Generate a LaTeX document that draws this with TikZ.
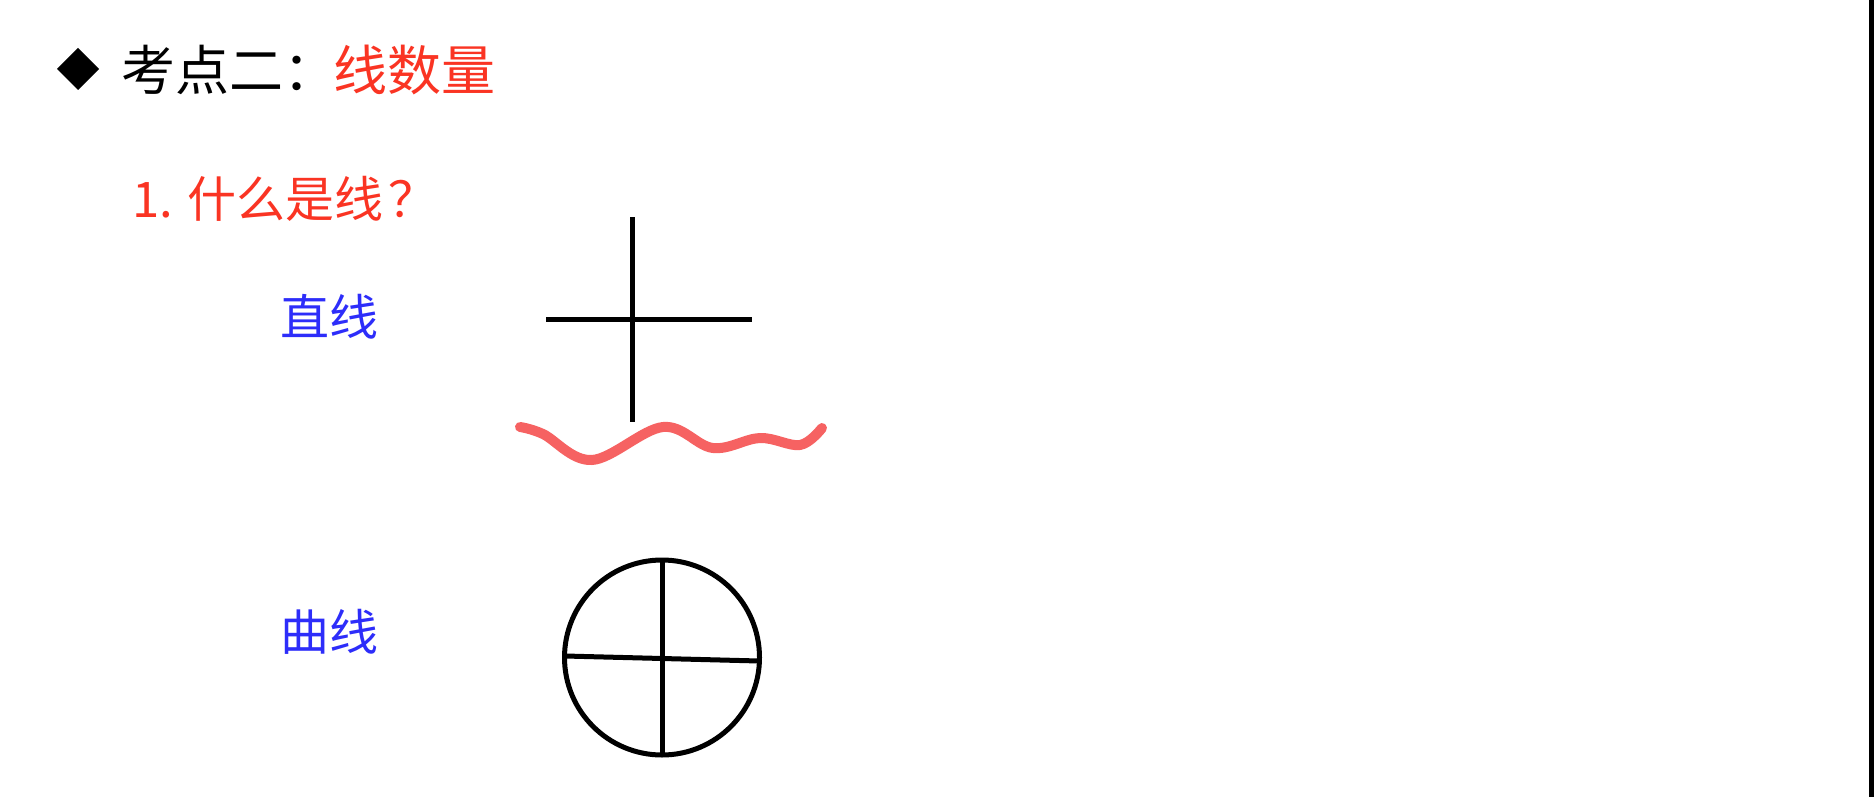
\documentclass[tikz,border=0pt]{standalone}
\usepackage{fontspec}
\setmainfont{Noto Sans CJK SC}
\definecolor{titlered}{RGB}{250,52,35}
\definecolor{labelblue}{RGB}{45,45,250}
\definecolor{wavered}{RGB}{246,98,98}
\tikzset{
  title/.style={anchor=base west,inner sep=0pt,font=\fontsize{54}{64}\selectfont},
  sub/.style={anchor=base west,inner sep=0pt,font=\fontsize{49}{58}\selectfont,text=titlered},
  lbl/.style={anchor=base west,inner sep=0pt,font=\fontsize{49}{58}\selectfont,text=labelblue},
  stroke/.style={line width=5pt,black},
}
\begin{document}
\begin{tikzpicture}[x=1pt,y=-1pt]
\useasboundingbox (0,0) rectangle (1874,797);
\fill[white] (0,0) rectangle (1874,797);
\fill[black] (1869,0) rectangle (1874,797);
% bullet
\fill[black] (78,48) -- (99,69) -- (78,90) -- (57,69) -- cycle;
\node[title] (t1) at (121,91) {考点二：};
\node[title,text=titlered] (t1b) at (333,91) {线数量};
\node[sub] (t2) at (132,217) {1. 什么是线\hspace{0.1em}？};
\node[lbl] (l1) at (280,335) {直线};
\node[lbl] (l2) at (280,650) {曲线};
% cross
\draw[stroke] (632,217) -- (632,422);
\draw[stroke] (546,319) -- (752,319);
% wavy line
\draw[wavered,line width=10pt,line cap=round,line join=round]
  plot[smooth,tension=0.6] coordinates {(520,427) (543,434) (592,460) (663,427) (713,448) (760,438) (800,445) (822,428)};
% circle
\draw[stroke] (662,657.5) circle (97.5);
\draw[stroke] (662,560) -- (662,755);
\draw[stroke] (565,656) -- (759,661);
\end{tikzpicture}
\end{document}
